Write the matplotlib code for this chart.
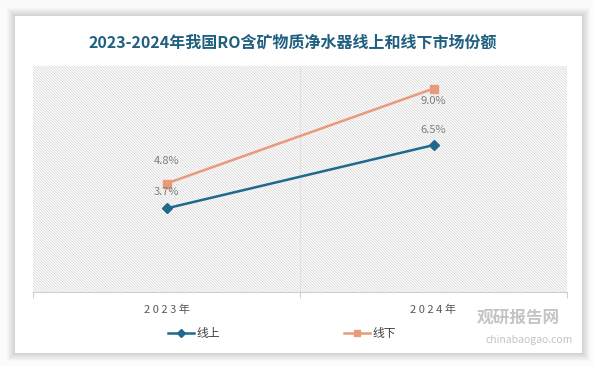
import matplotlib.pyplot as plt
from matplotlib.patches import Rectangle
import numpy as np

plt.rcParams['font.family'] = ['Noto Sans CJK SC', 'DejaVu Sans']
plt.rcParams['hatch.color'] = '#d2d2d2'
plt.rcParams['hatch.linewidth'] = 0.5

# data
years = ['2023年', '2024年']
online = [3.7, 6.5]
offline = [4.8, 9.0]
online_labels = ['3.7%', '6.5%']
offline_labels = ['4.8%', '9.0%']

W, H = 594, 366
fig = plt.figure(figsize=(W / 100, H / 100), dpi=100)
fig.patch.set_facecolor('#fbfbfb')

# card with a soft shadow
bg = fig.add_axes([0, 0, 1, 1])
bg.set_xlim(0, W)
bg.set_ylim(H, 0)
bg.axis('off')
for i in range(8, 0, -1):
    bg.add_patch(Rectangle((15 - i, 16 - i), 567 + 2 * i, 337 + 2 * i,
                           facecolor='#000000', alpha=0.018, edgecolor='none'))
bg.add_patch(Rectangle((15, 16), 567, 337, facecolor='white', edgecolor='none'))

fig.text(293 / W, 1 - 43 / H, '2023-2024年我国RO含矿物质净水器线上和线下市场份额',
         ha='center', va='center', fontsize=11.5, fontweight='bold', color='#1f5f80')

# plot area
left, right, top, bottom = 33, 567, 66, 292
ax = fig.add_axes([left / W, 1 - bottom / H, (right - left) / W, (bottom - top) / H])
ax.set_facecolor('white')
ax.add_patch(Rectangle((0, 0), 1, 1, transform=ax.transAxes, facecolor='white',
                       hatch='\\' * 12, edgecolor='#d2d2d2', linewidth=0, zorder=0))
x = np.arange(len(years))
ax.set_xlim(-0.5, 1.5)
ax.set_ylim(0, 10)
ax.axvline(0.5, color='#e0e0e0', lw=0.8, zorder=1)

ax.plot(x, online, color='#1f6a8c', lw=1.8, marker='D', markersize=5, label='线上', zorder=3)
ax.plot(x, offline, color='#e89a7a', lw=1.8, marker='s', markersize=6, label='线下', zorder=3)

lab = dict(ha='center', va='center', fontsize=8, color='#7f7f7f', zorder=4)
ax.annotate(offline_labels[0], (x[0], offline[0]), xytext=(0, 16), textcoords='offset points', **lab)
ax.annotate(online_labels[0], (x[0], online[0]), xytext=(0, 12), textcoords='offset points', **lab)
ax.annotate(offline_labels[1], (x[1], offline[1]), xytext=(0, -9), textcoords='offset points', **lab)
ax.annotate(online_labels[1], (x[1], online[1]), xytext=(0, 11), textcoords='offset points', **lab)

for s in ['top', 'right', 'left']:
    ax.spines[s].set_visible(False)
ax.spines['bottom'].set_color('#d0d0d0')
ax.set_yticks([])
ax.set_xticks([-0.5, 0.5, 1.5])
ax.set_xticklabels([])
ax.tick_params(axis='x', length=4, color='#d0d0d0')
for i, yr in enumerate(years):
    ax.text(x[i], -0.8, yr.replace('', ' ').strip().replace('  ', ' '), ha='center', va='center',
            fontsize=8, color='#595959')

fig.legend(loc='center left', bbox_to_anchor=(168 / W, 1 - 334 / H), ncol=2, frameon=False,
           fontsize=8.5, handlelength=2.2, handletextpad=0.2, columnspacing=10.5,
           labelcolor='#404040', markerscale=0.8, borderpad=0, borderaxespad=0)

# watermark
fig.text(560 / W, 1 - 318 / H, '观研报告网', ha='right', va='center', fontsize=12,
         fontweight='bold', color='#c4c4c4')
fig.text(573 / W, 1 - 340 / H, 'chinabaogao.com', ha='right', va='center', fontsize=7.5,
         color='#c4c4c4')

fig.savefig('out.png', dpi=100)
